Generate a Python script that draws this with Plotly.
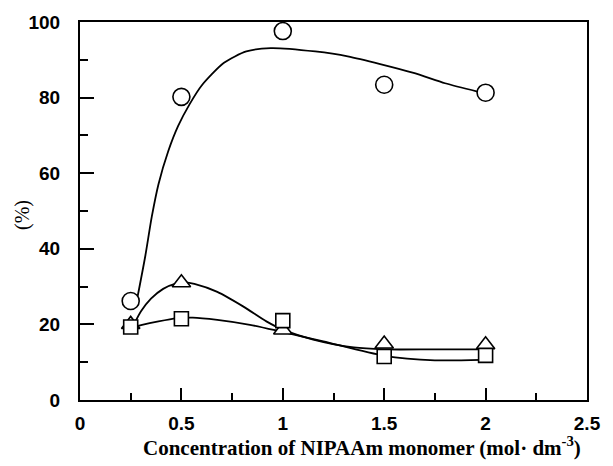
import plotly.graph_objects as go

# Measured data points
conc = [0.25, 0.5, 1.0, 1.5, 2.0]
circle_vals = [26.2, 80.2, 97.6, 83.4, 81.3]
triangle_vals = [20.0, 31.0, 18.5, 14.8, 14.6]
square_vals = [19.3, 21.5, 21.0, 11.5, 11.8]

# Smoothed fit curves
circle_curve_x = [0.282, 0.322, 0.354, 0.387, 0.435, 0.484, 0.54, 0.60, 0.71, 0.82, 0.94, 1.16, 1.32, 1.64, 1.80, 1.96]
circle_curve_y = [26.8, 38.1, 48.5, 57.1, 65.8, 72.5, 78.2, 83.2, 89.2, 92.2, 93.1, 92.2, 90.9, 86.6, 83.8, 81.6]
triangle_curve_x = [0.27, 0.30, 0.35, 0.41, 0.468, 0.52, 0.564, 0.677, 0.806, 0.919, 1.0, 1.15, 1.35, 1.5, 1.75, 2.0]
triangle_curve_y = [20.4, 23.4, 26.8, 29.4, 30.7, 31.1, 30.7, 28.6, 24.7, 20.8, 18.6, 16.0, 13.9, 13.4, 13.4, 13.4]
square_curve_x = [0.27, 0.306, 0.387, 0.475, 0.556, 0.677, 0.838, 0.983, 1.2, 1.5, 1.75, 1.98]
square_curve_y = [19.4, 19.9, 20.8, 21.6, 21.8, 21.2, 19.9, 18.2, 15.5, 11.7, 10.5, 10.6]

x_title = "Concentration of NIPAAm monomer (mol· dm<sup>-3</sup>)"
y_title = "(%)"

fig = go.Figure()
line_style = dict(color="black", width=1.8, shape="spline", smoothing=0.7)
for cx, cy in [(circle_curve_x, circle_curve_y), (triangle_curve_x, triangle_curve_y),
               (square_curve_x, square_curve_y)]:
    fig.add_trace(go.Scatter(x=cx, y=cy, mode="lines", line=line_style,
                             hoverinfo="skip", showlegend=False))

mk_line = dict(color="black", width=1.6)
fig.add_trace(go.Scatter(x=conc, y=circle_vals, mode="markers", showlegend=False,
                         marker=dict(symbol="circle", size=17, color="white", line=mk_line)))
fig.add_trace(go.Scatter(x=conc, y=triangle_vals, mode="markers", showlegend=False,
                         marker=dict(symbol="triangle-up", size=16, color="white", line=mk_line)))
fig.add_trace(go.Scatter(x=conc, y=square_vals, mode="markers", showlegend=False,
                         marker=dict(symbol="square", size=14, color="white", line=mk_line)))

tick_font = dict(family="Liberation Sans", size=19, color="black", weight="bold")
axis_common = dict(showline=True, linecolor="black", linewidth=2, mirror=True,
                   ticks="inside", tickcolor="black", tickwidth=2, showgrid=False,
                   zeroline=False, tickfont=tick_font)

fig.update_xaxes(range=[0, 2.5], dtick=0.5, tick0=0, ticklen=12,
                 minor=dict(dtick=0.25, ticks="inside", ticklen=7, tickcolor="black", tickwidth=2),
                 ticklabelstandoff=5, **axis_common)
fig.update_yaxes(range=[0, 100], dtick=20, tick0=0, ticklen=14,
                 minor=dict(dtick=10, ticks="inside", ticklen=8, tickcolor="black", tickwidth=2),
                 ticklabelstandoff=14, **axis_common)

fig.add_annotation(text=x_title, xref="paper", yref="paper", x=0.557, y=-0.082,
                   xanchor="center", yanchor="top", showarrow=False,
                   font=dict(family="Liberation Serif", size=21, color="black", weight="bold"))
fig.add_annotation(text=y_title, xref="paper", yref="paper", x=-0.112, y=0.49,
                   xanchor="center", yanchor="middle", showarrow=False, textangle=-90,
                   font=dict(family="Liberation Serif", size=20, color="black"))

fig.update_layout(width=613, height=466, margin=dict(l=80, r=16, t=15, b=66),
                  plot_bgcolor="white", paper_bgcolor="white")

fig.write_html("out.html")
